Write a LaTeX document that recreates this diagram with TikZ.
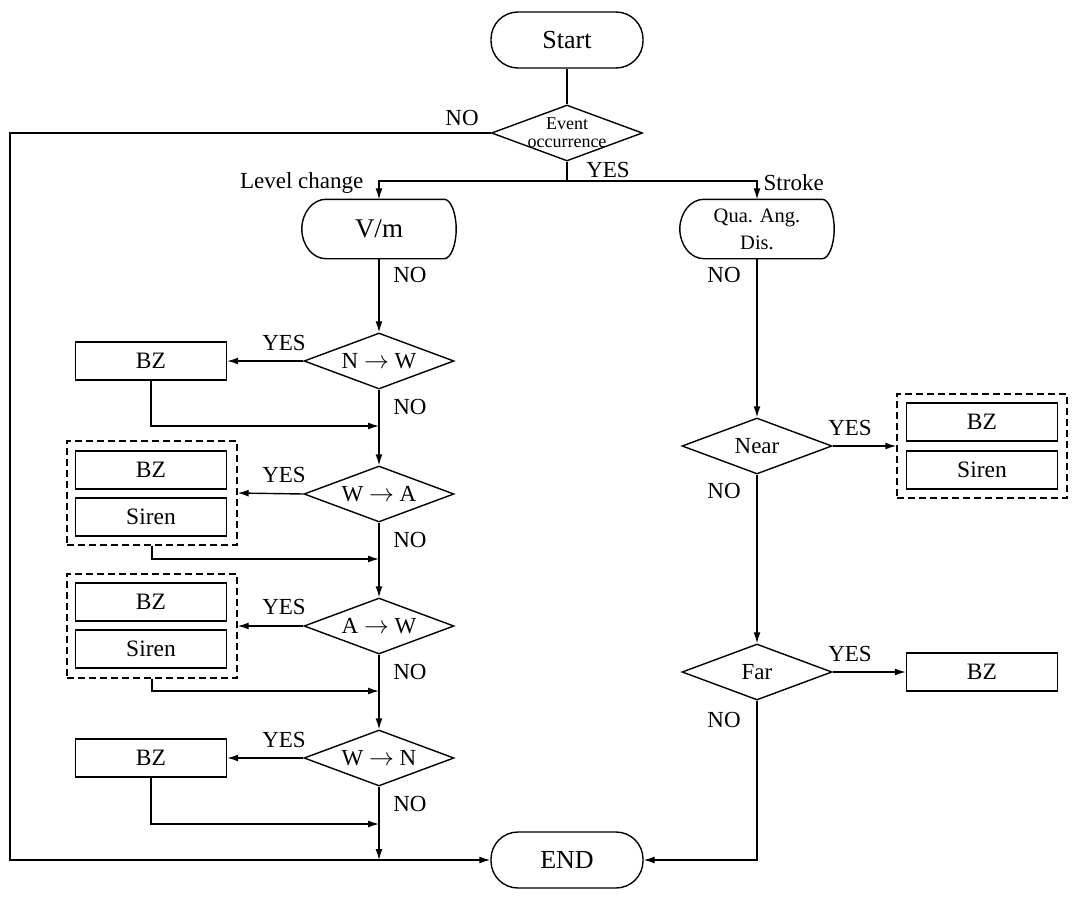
\documentclass[tikz,border=0pt]{standalone}
\usepackage{fontspec}
\setmainfont{Liberation Serif}
\usetikzlibrary{shapes.geometric,arrows.meta,calc}

% 显示框轮廓（左侧椭圆弧，右侧小弧）
\newcommand{\dispshape}[1]{%
  \draw ([xshift=24pt]#1.north west) -- ([xshift=-12pt]#1.north east)
    .. controls ([xshift=-5.4pt]#1.north east) and ([yshift=16pt]#1.east) .. (#1.east)
    .. controls ([yshift=-16pt]#1.east) and ([xshift=-5.4pt]#1.south east) .. ([xshift=-12pt]#1.south east)
    -- ([xshift=24pt]#1.south west)
    .. controls ([xshift=10.8pt]#1.south west) and ([yshift=-16pt]#1.west) .. (#1.west)
    .. controls ([yshift=16pt]#1.west) and ([xshift=10.8pt]#1.north west) .. cycle;}

\tikzset{
  terminal/.style={draw, rectangle, rounded corners=27pt, minimum width=152pt,
    minimum height=56pt, font=\fontsize{26}{30}\selectfont},
  decision/.style={draw, diamond, aspect=2.7, inner sep=0pt, minimum width=150pt,
    minimum height=56pt, font=\fontsize{23}{26}\selectfont},
  dispbox/.style={rectangle, minimum width=153pt, minimum height=58pt,
    inner sep=0pt, align=center},
  actbox/.style={draw, rectangle, minimum width=151pt, minimum height=38pt,
    font=\fontsize{23.5}{26}\selectfont},
  groupbox/.style={draw, dashed, dash pattern=on 7pt off 4pt, rectangle,
    minimum width=170pt, minimum height=104pt},
  lbl/.style={font=\fontsize{23}{26}\selectfont, inner sep=0pt},
  arr/.style={-{Latex[length=11pt,width=7pt]}},
}

\begin{document}
\begin{tikzpicture}[x=1pt, y=-1pt, line width=1.4pt]
  % 画布范围
  \useasboundingbox (0,0) rectangle (1077,899);
  % 开始与事件判断
  \node[terminal] (start) at (567,40) {Start};
  \node[decision, font=\fontsize{18}{18}\selectfont, align=center, minimum width=151pt,
    inner xsep=-44pt, inner ysep=-10pt] (event) at (567,133) {Event\\occurrence};
  \node[terminal] (end) at (567,860) {END};
  % 两个分支
  \node[dispbox, font=\fontsize{27}{30}\selectfont] (vm) at (379,229) {V/m};
  \node[dispbox, font=\fontsize{20.5}{27}\selectfont] (qad) at (757,229) {Qua. Ang.\\Dis.};
  \dispshape{vm}
  \dispshape{qad}
  % 左侧判断
  \node[decision] (nw) at (379,361) {N $\rightarrow$ W};
  \node[decision] (wa) at (379,494) {W $\rightarrow$ A};
  \node[decision] (aw) at (379,626) {A $\rightarrow$ W};
  \node[decision] (wn) at (379,758) {W $\rightarrow$ N};
  % 左侧动作
  \node[actbox] (bz1) at (151,361) {BZ};
  \node[groupbox] (g2) at (152,493) {};
  \node[actbox] (bz2) at (151,470) {BZ};
  \node[actbox] (sr2) at (151,517) {Siren};
  \node[groupbox] (g3) at (152,626) {};
  \node[actbox] (bz3) at (151,602) {BZ};
  \node[actbox] (sr3) at (151,649) {Siren};
  \node[actbox] (bz4) at (151,758) {BZ};
  % 右侧判断与动作
  \node[decision] (near) at (757,446) {Near};
  \node[decision] (far) at (757,672) {Far};
  \node[groupbox] (g5) at (982,446) {};
  \node[actbox] (bz5) at (982,422) {BZ};
  \node[actbox] (sr5) at (982,470) {Siren};
  \node[actbox] (bz6) at (982,672) {BZ};
  % 汇合点
  \coordinate (split) at (567,181);
  \coordinate (lc) at (10,133);
  \coordinate (m1) at (379,426);
  \coordinate (m2) at (379,559);
  \coordinate (m3) at (379,691);
  \coordinate (m4) at (379,824);
  % 连线
  \draw (start) -- (event);
  \draw (event.south) -- (split);
  \draw[arr] (split) -| (vm.north);
  \draw[arr] (split) -| (qad.north);
  \draw[arr] (event.west) -- (lc) |- (end.west);
  \draw[arr] (vm.south) -- (nw.north);
  \draw[arr] (nw.west) -- (bz1.east);
  \draw[arr] (bz1.south) |- (m1);
  \draw[arr] (nw.south) -- (wa.north);
  \draw[arr] (wa.west) -- (g2.east);
  \draw[arr] (g2.south) |- (m2);
  \draw[arr] (wa.south) -- (aw.north);
  \draw[arr] (aw.west) -- (g3.east);
  \draw[arr] (g3.south) |- (m3);
  \draw[arr] (aw.south) -- (wn.north);
  \draw[arr] (wn.west) -- (bz4.east);
  \draw[arr] (bz4.south) |- (m4);
  \draw[arr] (wn.south) -- (wn.south |- end.west);
  \draw[arr] (qad.south) -- (near.north);
  \draw[arr] (near.east) -- (g5.west);
  \draw[arr] (near.south) -- (far.north);
  \draw[arr] (far.east) -- (bz6.west);
  \draw[arr] (far.south) |- (end.east);
  % 标注
  \node[lbl] (lno0) at (462,118) {NO};
  \node[lbl] (lyes0) at (608,170) {YES};
  \node[lbl, anchor=east] (llev) at (364,183) {Level change};
  \node[lbl, anchor=west] (lstr) at (763,183) {Stroke};
  \node[lbl] (lno1) at (410,275) {NO};
  \node[lbl] (lno2) at (724,275) {NO};
  \node[lbl] (lyes1) at (284,343) {YES};
  \node[lbl] (lno3) at (410,407) {NO};
  \node[lbl] (lyes2) at (284,475) {YES};
  \node[lbl] (lno4) at (410,540) {NO};
  \node[lbl] (lyes3) at (284,607) {YES};
  \node[lbl] (lno5) at (410,672) {NO};
  \node[lbl] (lyes4) at (284,740) {YES};
  \node[lbl] (lno6) at (410,804) {NO};
  \node[lbl] (lyes5) at (850,428) {YES};
  \node[lbl] (lno7) at (724,491) {NO};
  \node[lbl] (lyes6) at (850,654) {YES};
  \node[lbl] (lno8) at (724,720) {NO};
\end{tikzpicture}
\end{document}
